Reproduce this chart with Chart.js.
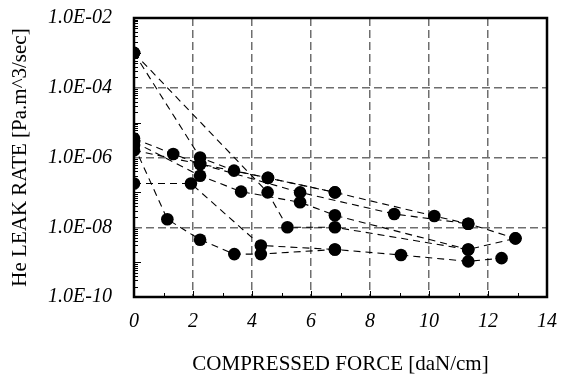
<!DOCTYPE html>
<html lang="en">
<head>
  <meta charset="UTF-8" />
  <title>He leak rate vs compressed force</title>
  <script src="https://cdn.jsdelivr.net/npm/chart.js"></script>
  <style>
    body { margin: 0; background: #fff; }
    .grafico { width: 561px; height: 378px; }
  </style>
</head>
<body>
  <div class="grafico"><canvas id="grafico_leak"></canvas></div>

  <script>
    // series (x = daN/cm, y = Pa.m^3/sec)
    const force1 = [0, 2.24, 3.39, 4.54, 6.81, 10.18, 11.33, 12.93];
    const leak1  = [1e-3, 1e-6, 4.2e-7, 2.6e-7, 1e-7, 2.1e-8, 1.26e-8, 4.8e-9];
    const force2 = [0, 4.53, 5.2, 6.81, 11.33, 12.93];
    const leak2  = [1e-3, 1e-7, 1e-8, 1e-8, 2.3e-9, 4.8e-9];
    const force3 = [0, 1.93, 4.3, 6.81];
    const leak3  = [1.8e-7, 1.8e-7, 3e-9, 2.3e-9];
    const force4 = [0, 1.13, 2.24, 3.4, 4.3, 6.81, 9.05, 11.33, 12.46];
    const leak4  = [2.2e-6, 1.7e-8, 4.4e-9, 1.7e-9, 1.7e-9, 2.3e-9, 1.6e-9, 1.05e-9, 1.3e-9];
    const force5 = [0, 1.33, 2.24, 5.63, 8.82, 11.33];
    const leak5  = [3.5e-6, 1.26e-6, 6.5e-7, 1e-7, 2.4e-8, 1.26e-8];
    const force6 = [0, 2.24, 3.63, 5.63, 6.81, 11.33];
    const leak6  = [2.8e-6, 3e-7, 1.05e-7, 5.2e-8, 2.2e-8, 2.3e-9];
    const force7 = [0, 2.24, 4.54, 6.81];
    const leak7  = [1.6e-6, 6.5e-7, 2.6e-7, 1e-7];

    const yTickValues = [1e-10, 1e-8, 1e-6, 1e-4, 1e-2];
    const yTickLabels = ['1.0E-10', '1.0E-08', '1.0E-06', '1.0E-04', '1.0E-02'];

    const series = [
      [force1, leak1], [force2, leak2], [force3, leak3], [force4, leak4],
      [force5, leak5], [force6, leak6], [force7, leak7]
    ];

    const fonte = "'Times New Roman', 'Liberation Serif', serif";

    const datasets = series.map(function (s, i) {
      return {
        label: 'serie ' + (i + 1),
        data: s[0].map((x, k) => ({ x: x, y: s[1][k] })),
        showLine: true,
        borderColor: '#000',
        borderWidth: 1.1,
        borderDash: [7, 5],
        backgroundColor: '#000',
        pointBackgroundColor: '#000',
        pointBorderColor: '#000',
        pointRadius: 6.3,
        pointBorderWidth: 0,
        tension: 0
      };
    });

    // moldura + tracinhos menores
    const molduraPlugin = {
      id: 'moldura',
      beforeDatasetsDraw(chart) {
        const { ctx, chartArea: a, scales } = chart;
        ctx.save();
        ctx.strokeStyle = '#000';
        ctx.lineWidth = 1;
        ctx.setLineDash([]);
        ctx.beginPath();
        for (let e = -10; e < -2; e++) {
          for (let k = 1; k <= 9; k++) {
            const v = k * Math.pow(10, e);
            if (k === 1 && e % 2 === 0) continue;
            const py = Math.round(scales.y.getPixelForValue(v)) + 0.5;
            const len = k === 1 ? 7 : 4;
            ctx.moveTo(a.left, py);
            ctx.lineTo(a.left + len, py);
          }
        }
        for (let x = 1; x < 14; x++) {
          const px = Math.round(scales.x.getPixelForValue(x)) + 0.5;
          ctx.moveTo(px, a.bottom);
          ctx.lineTo(px, a.bottom - (x % 2 === 0 ? 6 : 4));
        }
        ctx.stroke();
        ctx.lineWidth = 2.5;
        ctx.strokeRect(a.left, a.top, a.right - a.left, a.bottom - a.top);
        ctx.restore();
      }
    };

    const config = {
      type: 'scatter',
      data: { datasets: datasets },
      options: {
        responsive: true,
        maintainAspectRatio: false,
        animation: false,
        layout: { padding: { top: 18, right: 14, left: 0, bottom: 0 } },
        plugins: {
          legend: { display: false },
          tooltip: { enabled: false }
        },
        scales: {
          x: {
            type: 'linear',
            min: 0,
            max: 14,
            afterFit(scale) {
              scale.height = 81;
              scale.paddingLeft = 0;
              scale.paddingRight = 0;
            },
            ticks: {
              stepSize: 2,
              color: '#000',
              padding: 13,
              maxRotation: 0,
              font: { family: fonte, size: 20, style: 'italic' }
            },
            grid: {
              color: (c) => (c.tick && (c.tick.value === 0 || c.tick.value === 14)) ? 'rgba(0,0,0,0)' : '#6e6e6e',
              lineWidth: 1.5,
              drawTicks: false
            },
            border: { display: false, dash: [8, 4] },
            title: {
              display: true,
              text: 'COMPRESSED FORCE [daN/cm]',
              color: '#000',
              padding: { top: 0, bottom: 1 },
              font: { family: fonte, size: 21 }
            }
          },
          y: {
            type: 'logarithmic',
            min: 1e-10,
            max: 1e-2,
            afterFit(scale) {
              scale.width = 134;
              scale.paddingTop = 0;
              scale.paddingBottom = 0;
            },
            afterBuildTicks(scale) {
              scale.ticks = yTickValues.map(v => ({ value: v, major: true }));
            },
            ticks: {
              color: '#000',
              padding: 22,
              autoSkip: false,
              font: { family: fonte, size: 20, style: 'italic' },
              callback: (v) => {
                const i = yTickValues.findIndex(t => Math.abs(Math.log10(t) - Math.log10(v)) < 1e-6);
                return i >= 0 ? yTickLabels[i] : '';
              }
            },
            grid: {
              color: (c) => (c.tick && (c.tick.value <= 1e-10 * 1.01 || c.tick.value >= 1e-2 * 0.99)) ? 'rgba(0,0,0,0)' : '#6e6e6e',
              lineWidth: 1.5,
              drawTicks: false
            },
            border: { display: false, dash: [8, 4] },
            title: {
              display: true,
              text: 'He LEAK RATE [Pa.m^3/sec]',
              color: '#000',
              padding: { top: 8, bottom: 0 },
              font: { family: fonte, size: 21 }
            }
          }
        }
      },
      plugins: [molduraPlugin]
    };

    const ctx_leak = document.getElementById('grafico_leak').getContext('2d');
    const grafico_leak = new Chart(ctx_leak, config);
  </script>
</body>
</html>
